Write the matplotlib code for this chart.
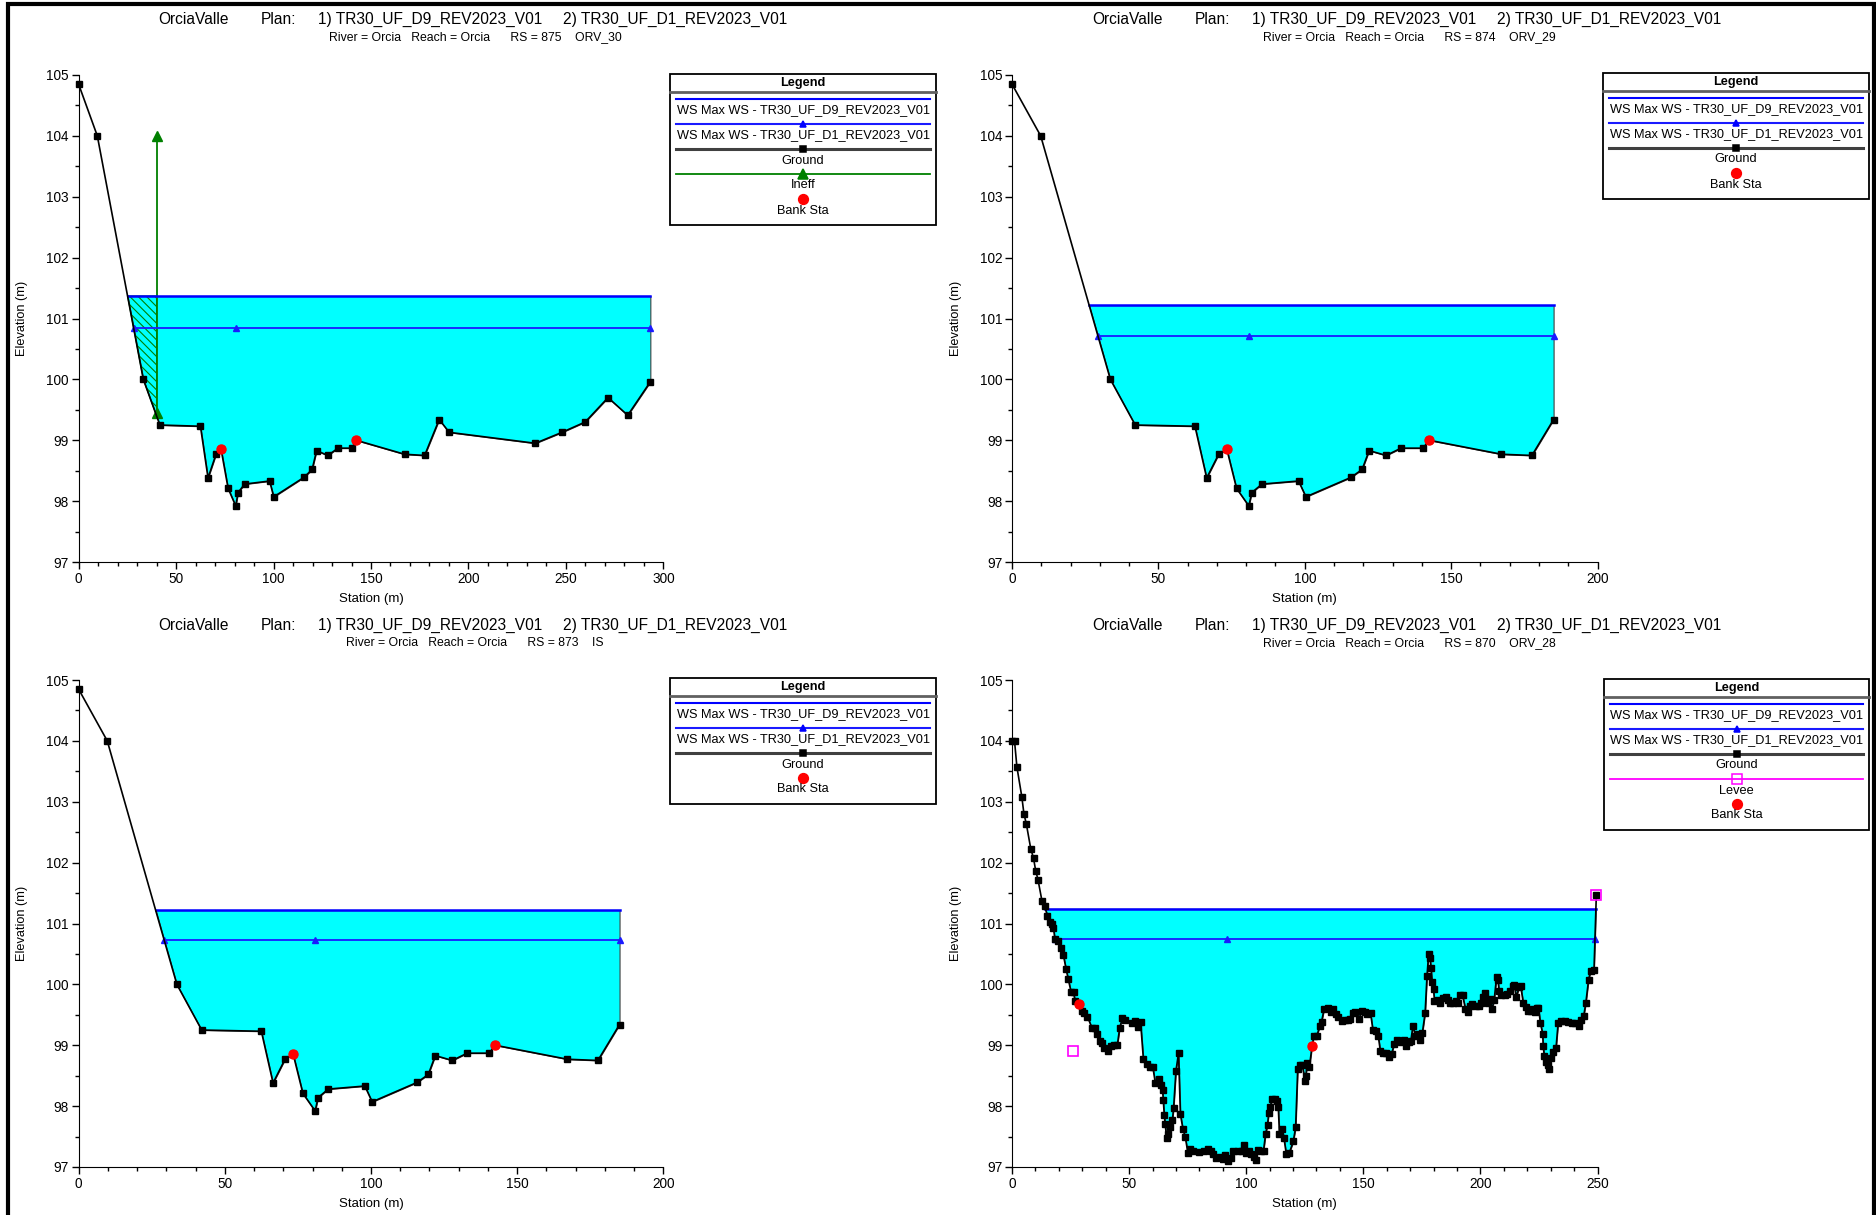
import numpy as np
import matplotlib
matplotlib.use("Agg")
import matplotlib.pyplot as plt
from matplotlib.patches import Rectangle
from matplotlib.lines import Line2D
from matplotlib.ticker import MultipleLocator

W, H = 1876, 1215
REG = ["Liberation Sans", "DejaVu Sans"]
plt.rcParams["font.family"] = REG
plt.rcParams["hatch.linewidth"] = 0.8

# ---- data read from the HEC-RAS cross sections ----
plan_1 = "1) TR30_UF_D9_REV2023_V01"
plan_2 = "2) TR30_UF_D1_REV2023_V01"
rs_labels = ["RS = 875    ORV_30", "RS = 874    ORV_29", "RS = 873    IS", "RS = 870    ORV_28"]

# RS 875
sta_875 = [0, 9.6, 33.2, 41.7, 62.5, 66.4, 70.5, 73.1, 76.7, 80.6, 81.8, 85.2, 98.0, 100.1,
           115.6, 119.8, 122.1, 127.8, 133.1, 140.2, 142.4, 167.2, 177.5, 185.0, 190.1,
           234.3, 248.0, 259.9, 271.6, 281.7, 293.3]
elev_875 = [104.85, 104.0, 100.0, 99.25, 99.23, 98.38, 98.77, 98.85, 98.21, 97.92, 98.14,
            98.28, 98.33, 98.07, 98.39, 98.52, 98.83, 98.75, 98.87, 98.87, 99.0, 98.77,
            98.75, 99.34, 99.13, 98.95, 99.13, 99.30, 99.70, 99.41, 99.96]
bank_sta_875 = [73.1, 142.4]
bank_elev_875 = [98.85, 99.0]

# RS 874 (RS 873 has the same ground)
sta_874 = [0, 9.8, 33.6, 42.1, 62.5, 66.5, 70.6, 73.4, 76.7, 80.9, 81.9, 85.4, 97.9, 100.4,
           115.8, 119.6, 122.0, 127.8, 132.9, 140.4, 142.5, 167.2, 177.6, 185.0]
elev_874 = [104.85, 104.0, 100.0, 99.25, 99.23, 98.38, 98.77, 98.85, 98.21, 97.92, 98.14,
            98.28, 98.33, 98.07, 98.39, 98.52, 98.83, 98.75, 98.87, 98.87, 99.0, 98.77,
            98.75, 99.34]
bank_sta_874 = [73.4, 142.5]
bank_elev_874 = [98.85, 99.0]
sta_873 = sta_874
elev_873 = elev_874
bank_sta_873 = bank_sta_874
bank_elev_873 = bank_elev_874

# RS 870
sta_870 = [0, 1.1, 2.1, 4.2, 5.1, 6.1, 8.0, 9.2, 10.1, 11.1,
           12.8, 13.9, 15.1, 16.2, 17.0, 17.7, 18.3, 19.5, 21.0, 21.9,
           23.1, 24.0, 25.2, 26.3, 26.9, 28.8, 29.7, 30.7, 32.2, 34.1,
           35.3, 36.2, 37.4, 38.3, 39.3, 41.0, 42.1, 43.5, 45.0, 46.0,
           47.1, 48.4, 51.1, 52.4, 54.0, 54.9, 56.1, 57.8, 59.1, 60.1,
           61.2, 62.7, 63.5, 64.3, 64.6, 65.0, 65.4, 66.0, 66.7, 67.5,
           68.5, 69.0, 70.0, 71.1, 71.9, 73.0, 74.0, 75.1, 76.2, 77.2,
           79.9, 82.0, 83.7, 84.9, 85.8, 87.3, 88.9, 90.0, 91.1, 92.1,
           93.4, 94.2, 96.3, 98.0, 99.1, 100.0, 101.3, 102.2, 103.2, 104.1,
           105.1, 106.4, 107.4, 108.3, 109.1, 109.6, 110.2, 111.2, 112.3, 113.3,
           113.7, 114.2, 115.4, 116.1, 117.1, 118.4, 120.1, 121.1, 122.0, 123.0,
           124.0, 125.1, 125.5, 126.0, 127.0, 128.1, 128.9, 130.2, 131.4, 132.2,
           133.3, 134.8, 136.0, 137.1, 138.4, 139.4, 140.7, 142.1, 143.6, 144.5,
           145.5, 146.5, 148.0, 149.5, 150.6, 151.6, 153.1, 154.1, 155.4, 156.4,
           157.3, 158.5, 159.8, 161.1, 162.1, 163.2, 164.6, 165.9, 167.2, 168.4,
           169.3, 170.3, 171.2, 172.2, 173.3, 174.3, 175.2, 176.4, 177.2, 177.9,
           178.5, 178.9, 179.4, 180.0, 180.4, 181.7, 182.7, 184.0, 185.2, 186.1,
           186.9, 188.2, 189.4, 190.3, 191.5, 192.4, 193.6, 194.7, 195.7, 196.6,
           198.0, 199.3, 200.2, 201.2, 202.1, 203.1, 204.0, 205.0, 205.9, 206.9,
           207.5, 208.0, 209.0, 210.3, 211.5, 212.6, 213.8, 214.5, 215.3, 216.5,
           217.2, 218.3, 219.3, 220.3, 221.4, 222.3, 223.3, 224.1, 224.8, 225.6,
           226.6, 226.8, 227.3, 228.1, 229.0, 229.4, 230.2, 231.1, 232.3, 233.2,
           234.4, 236.1, 237.4, 239.0, 240.5, 242.0, 243.0, 244.1, 245.0, 246.2,
           247.1, 248.5, 249.5]
elev_870 = [104.0, 103.99, 103.57, 103.08, 102.80, 102.64, 102.23, 102.07, 101.87, 101.72,
            101.37, 101.29, 101.13, 101.03, 101.0, 100.93, 100.75, 100.72, 100.59, 100.49,
            100.25, 100.09, 99.88, 99.87, 99.73, 99.67, 99.57, 99.53, 99.47, 99.29,
            99.28, 99.18, 99.07, 99.03, 98.96, 98.91, 98.99, 99.01, 99.01, 99.29,
            99.44, 99.41, 99.37, 99.40, 99.30, 99.38, 98.77, 98.69, 98.64, 98.65,
            98.38, 98.44, 98.35, 98.26, 98.10, 97.86, 97.71, 97.48, 97.54, 97.65,
            97.77, 97.97, 98.58, 98.87, 97.87, 97.62, 97.49, 97.23, 97.30, 97.26,
            97.24, 97.26, 97.29, 97.27, 97.22, 97.15, 97.16, 97.13, 97.19, 97.10,
            97.14, 97.26, 97.27, 97.26, 97.36, 97.23, 97.27, 97.22, 97.17, 97.12,
            97.28, 97.27, 97.27, 97.55, 97.69, 97.88, 97.99, 98.12, 98.11, 98.09,
            97.99, 97.54, 97.63, 97.48, 97.22, 97.23, 97.42, 97.65, 98.61, 98.68,
            98.67, 98.41, 98.50, 98.71, 98.65, 98.98, 99.15, 99.16, 99.31, 99.39,
            99.60, 99.61, 99.54, 99.59, 99.51, 99.46, 99.40, 99.41, 99.42, 99.43,
            99.53, 99.55, 99.43, 99.57, 99.55, 99.52, 99.53, 99.25, 99.24, 99.15,
            98.90, 98.87, 98.88, 98.80, 98.86, 99.02, 99.09, 99.06, 99.09, 98.99,
            99.05, 99.07, 99.32, 99.16, 99.19, 99.08, 99.20, 99.53, 100.14, 100.50,
            100.44, 100.27, 100.04, 99.92, 99.72, 99.75, 99.69, 99.78, 99.80, 99.75,
            99.69, 99.69, 99.72, 99.70, 99.83, 99.82, 99.60, 99.55, 99.64, 99.68,
            99.64, 99.65, 99.70, 99.79, 99.86, 99.70, 99.76, 99.60, 99.75, 100.12,
            100.07, 99.89, 99.83, 99.83, 99.85, 99.89, 99.98, 99.99, 99.79, 99.95,
            99.97, 99.70, 99.63, 99.57, 99.57, 99.60, 99.54, 99.62, 99.62, 99.37,
            99.19, 98.99, 98.82, 98.73, 98.67, 98.61, 98.79, 98.89, 98.96, 99.37,
            99.40, 99.40, 99.39, 99.37, 99.36, 99.32, 99.41, 99.48, 99.69, 100.08,
            100.22, 100.23, 101.47]
bank_sta_870 = [28.8, 128.1]
bank_elev_870 = [99.67, 98.98]
levee_sta_870 = [25.9, 249.5]
levee_elev_870 = [98.91, 101.47]

# max water surfaces (plan D9, plan D1) per section, order 875, 874, 873, 870
ws_d9 = [101.37, 101.22, 101.22, 101.24]
ws_d1 = [100.84, 100.72, 100.73, 100.75]
ws_d1_mid = [80.6, 80.9, 80.8, 92.0]  # station of the middle marker on the D1 line
x_max = [300, 200, 200, 250]

# ineffective flow area at RS 875
ineff_sta = 40.0
ineff_elev = [99.45, 104.0]


def fx(px):
    return px / W


def fy(py):
    return 1 - py / H


def ws_limits(sta, elev, ws):
    sta = np.asarray(sta)
    elev = np.asarray(elev)
    wet = elev < ws
    i = np.argmax(wet)
    xl = sta[0] if i == 0 else np.interp(ws, [elev[i], elev[i - 1]], [sta[i], sta[i - 1]])
    j = len(sta) - 1 - np.argmax(wet[::-1])
    xr = sta[-1] if j == len(sta) - 1 else np.interp(ws, [elev[j], elev[j + 1]], [sta[j], sta[j + 1]])
    return xl, xr


def legend_box(x0, y0, x1, entries):
    n = len(entries)
    y1 = y0 + 18 + 7 + 25 * (n - 1) + 26
    fig.add_artist(Rectangle((fx(x0), fy(y1)), (x1 - x0) / W, (y1 - y0) / H,
                             transform=fig.transFigure, fill=False, edgecolor="black", lw=1.3))
    xc = (x0 + x1) / 2
    fig.text(fx(xc), fy(y0 + 9), "Legend", ha="center", va="center", fontsize=9.2,
             fontweight="bold")
    fig.add_artist(Line2D([fx(x0), fx(x1)], [fy(y0 + 18)] * 2, color="#606060", lw=2,
                          transform=fig.transFigure))
    for i, (label, color, lw, marker, mfc, mec, ms) in enumerate(entries):
        ly = y0 + 25 + 25 * i
        if lw > 0:
            fig.add_artist(Line2D([fx(x0 + 6), fx(x1 - 6)], [fy(ly)] * 2, color=color, lw=lw,
                                  transform=fig.transFigure))
        if marker:
            fig.add_artist(Line2D([fx(xc)], [fy(ly)], marker=marker, ms=ms, mfc=mfc, mec=mec,
                                  mew=1.1, ls="none", transform=fig.transFigure))
        fig.text(fx(xc), fy(ly + 11.5), label, ha="center", va="center", fontsize=9.2)


fig = plt.figure(figsize=(W / 100, H / 100), dpi=100)

sections = [
    (sta_875, elev_875, bank_sta_875, bank_elev_875),
    (sta_874, elev_874, bank_sta_874, bank_elev_874),
    (sta_873, elev_873, bank_sta_873, bank_elev_873),
    (sta_870, elev_870, bank_sta_870, bank_elev_870),
]
# axes boxes in pixels: left, top, right, bottom
boxes = [(78.6, 75, 663.4, 562), (1012, 75, 1597.5, 562),
         (78.6, 680, 663.4, 1167), (1012, 680, 1597.5, 1167)]
offsets = [(0, 0), (934, 0), (0, 606), (934, 606)]
legend_pos = [(670, 74, 936), (1603, 73, 1869), (670, 678, 936), (1604, 679, 1869)]

for k in range(4):
    sta, elev, bsta, belev = sections[k]
    sta = np.asarray(sta, dtype=float)
    elev = np.asarray(elev, dtype=float)
    l, t, r, b = boxes[k]
    ax = fig.add_axes([fx(l), fy(b), (r - l) / W, (b - t) / H])

    w9, w1 = ws_d9[k], ws_d1[k]
    xl9, xr9 = ws_limits(sta, elev, w9)
    xl1, xr1 = ws_limits(sta, elev, w1)

    ax.fill_between(sta, elev, w9, where=elev < w9, interpolate=True, facecolor="#00FFFF",
                    edgecolor="#404040", lw=0.8, zorder=1)
    if k == 0:
        xs = np.linspace(xl9, ineff_sta, 60)
        ax.fill_between(xs, np.interp(xs, sta, elev), w9, facecolor="none", edgecolor="#008000",
                        hatch="\\\\\\\\", lw=0.8, zorder=2)
        ax.plot([ineff_sta, ineff_sta], ineff_elev, color="#008000", lw=1.3, marker="^", ms=6.5,
                zorder=3)
    ax.plot([xl9, xr9], [w9, w9], color="#0000FF", lw=1.8, zorder=3)
    ax.plot([xl1, ws_d1_mid[k], xr1], [w1] * 3, color="#1A1AFF", lw=1.3, marker="^", ms=4.5,
            zorder=3)
    ax.plot(sta, elev, color="black", lw=1.2, marker="s", ms=4.5, zorder=4, clip_on=False)
    ax.plot(bsta, belev, "o", color="red", ms=6.5, zorder=5)
    if k == 3:
        ax.plot(levee_sta_870, levee_elev_870, "s", mfc="none", mec="#FF00FF", ms=7, mew=1.2,
                zorder=6, clip_on=False)

    ax.set_xlim(0, x_max[k])
    ax.set_ylim(97, 105)
    for s in ["top", "right"]:
        ax.spines[s].set_visible(False)
    ax.xaxis.set_major_locator(MultipleLocator(50))
    ax.xaxis.set_minor_locator(MultipleLocator(10))
    ax.yaxis.set_major_locator(MultipleLocator(1))
    ax.yaxis.set_minor_locator(MultipleLocator(0.5))
    ax.tick_params(which="major", direction="out", length=5, width=1, labelsize=9.8, pad=2)
    ax.tick_params(which="minor", direction="out", length=3, width=1)

    dx, dy = offsets[k]
    # titles
    fig.text(fx(158 + dx), fy(19 + dy), "OrciaValle", fontsize=11.2, va="center")
    fig.text(fx(261 + dx), fy(19 + dy), "Plan:", fontsize=11.2, va="center")
    fig.text(fx(318 + dx), fy(19 + dy), plan_1, fontsize=11.2, va="center")
    fig.text(fx(563 + dx), fy(19 + dy), plan_2, fontsize=11.2, va="center")
    fig.text(fx(475 + dx), fy(37 + dy),
             "River = Orcia   Reach = Orcia      " + rs_labels[k],
             fontsize=8.8, ha="center", va="center")

    fig.text(fx(21.5 + dx), fy((t + b) / 2), "Elevation (m)", rotation=90, ha="center",
             va="center", fontsize=9.2)
    fig.text(fx((l + r) / 2), fy(b + 37), "Station (m)", ha="center", va="center", fontsize=9.5)

    entries = [
        ("WS Max WS - TR30_UF_D9_REV2023_V01", "#0000FF", 1.5, None, None, None, 0),
        ("WS Max WS - TR30_UF_D1_REV2023_V01", "#1A1AFF", 1.5, "^", "#0000FF", "#0000FF", 5),
        ("Ground", "#404040", 2.2, "s", "black", "black", 4.5),
    ]
    if k == 0:
        entries.append(("Ineff", "#008000", 1.3, "^", "#008000", "#008000", 7))
    if k == 3:
        entries.append(("Levee", "#FF00FF", 1.3, "s", "none", "#FF00FF", 6.5))
    entries.append(("Bank Sta", "red", 0, "o", "red", "red", 7))
    legend_box(*legend_pos[k], entries)

# outer frame
fig.add_artist(Rectangle((fx(8), -0.01), (1874 - 8) / W, 1.01 - 4 / H, transform=fig.transFigure,
                         fill=False, edgecolor="black", lw=3))

fig.savefig("out.png", dpi=100)
